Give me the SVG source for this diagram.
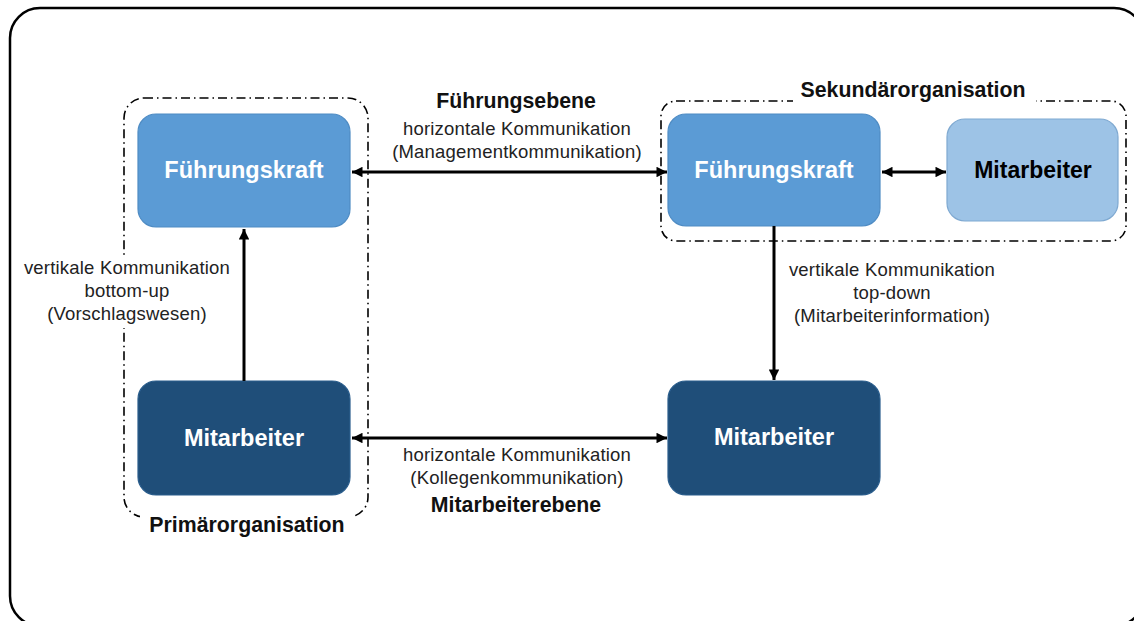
<svg xmlns="http://www.w3.org/2000/svg" width="1134" height="621" viewBox="0 0 1134 621">
  <defs>
    <marker id="head" viewBox="0 0 10 10" refX="10" refY="5" markerWidth="3.8" markerHeight="3.5" orient="auto-start-reverse" markerUnits="strokeWidth">
      <path d="M0,0 L10,5 L0,10 z" fill="#000"/>
    </marker>
    <style>
      .frame { fill: #fff; stroke: #000; stroke-width: 2.5; }
      .group { fill: none; stroke: #000; stroke-width: 1.6; stroke-dasharray: 9 4 1.5 4; }
      .mid { fill: #5b9bd5; stroke: #4f8cc4; stroke-width: 1.2; }
      .dark { fill: #1f4e79; stroke: #2a5d8c; stroke-width: 1.2; }
      .light { fill: #9dc3e6; stroke: #7fa9d1; stroke-width: 1.2; }
      .node-w { font-family: "Liberation Sans", Arial, sans-serif; font-weight: bold; font-size: 23.5px; fill: #fff; text-anchor: middle; }
      .node-b { font-family: "Liberation Sans", Arial, sans-serif; font-weight: bold; font-size: 23px; fill: #000; text-anchor: middle; }
      .head { font-family: "Liberation Sans", Arial, sans-serif; font-weight: bold; font-size: 21.3px; fill: #111; text-anchor: middle; }
      .lbl { font-family: "Liberation Sans", Arial, sans-serif; font-size: 18.5px; letter-spacing: 0.2px; fill: #222; text-anchor: middle; }
      .conn { stroke: #000; stroke-width: 3; fill: none; marker-end: url(#head); }
      .conn2 { stroke: #000; stroke-width: 3; fill: none; marker-start: url(#head); marker-end: url(#head); }
    </style>
  </defs>

  <!-- outer frame -->
  <rect class="frame" x="10" y="8" width="1134" height="618" rx="30"/>

  <!-- organisation groupings -->
  <g id="primaerorganisation">
    <rect class="group" x="124" y="98" width="244" height="419" rx="20"/>
    <rect x="140" y="508" width="215" height="30" fill="#fff"/>
    <text class="head" x="247" y="532">Primärorganisation</text>
  </g>
  <g id="sekundaerorganisation">
    <rect class="group" x="661" y="101" width="465" height="140" rx="15"/>
    <rect x="793" y="76" width="243" height="30" fill="#fff"/>
    <text class="head" x="913" y="97">Sekundärorganisation</text>
  </g>

  <!-- nodes -->
  <g id="fuehrungskraft-links">
    <rect class="mid" x="138" y="114" width="212" height="113" rx="18"/>
    <text class="node-w" x="244" y="178">Führungskraft</text>
  </g>
  <g id="mitarbeiter-links">
    <rect class="dark" x="138" y="381" width="212" height="114" rx="18"/>
    <text class="node-w" x="244" y="446">Mitarbeiter</text>
  </g>
  <g id="fuehrungskraft-rechts">
    <rect class="mid" x="668" y="114" width="212" height="112" rx="18"/>
    <text class="node-w" x="774" y="178">Führungskraft</text>
  </g>
  <g id="mitarbeiter-rechts">
    <rect class="dark" x="668" y="381" width="212" height="114" rx="18"/>
    <text class="node-w" x="774" y="445">Mitarbeiter</text>
  </g>
  <g id="mitarbeiter-sekundaer">
    <rect class="light" x="947" y="119" width="171" height="102" rx="18"/>
    <text class="node-b" x="1033" y="178">Mitarbeiter</text>
  </g>

  <!-- connectors -->
  <g id="connectors">
    <line class="conn2" x1="352" y1="172" x2="667" y2="172"/>
    <line class="conn2" x1="352" y1="438" x2="667" y2="438"/>
    <line class="conn" x1="244" y1="381" x2="244" y2="229"/>
    <line class="conn" x1="774" y1="226" x2="774" y2="380"/>
    <line class="conn2" x1="882" y1="172" x2="946" y2="172"/>
  </g>

  <!-- connector labels -->
  <g id="labels">
    <text class="head" x="516" y="108">Führungsebene</text>
    <text class="lbl" x="517" y="135">horizontale Kommunikation</text>
    <text class="lbl" x="517" y="158">(Managementkommunikation)</text>

    <text class="lbl" x="517" y="461">horizontale Kommunikation</text>
    <text class="lbl" x="517" y="484">(Kollegenkommunikation)</text>
    <text class="head" x="516" y="512">Mitarbeiterebene</text>

    <rect x="20" y="256" width="214" height="72" fill="#fff"/>
    <text class="lbl" x="127" y="274">vertikale Kommunikation</text>
    <text class="lbl" x="127" y="297">bottom-up</text>
    <text class="lbl" x="127" y="320">(Vorschlagswesen)</text>

    <text class="lbl" x="892" y="276">vertikale Kommunikation</text>
    <text class="lbl" x="892" y="299">top-down</text>
    <text class="lbl" x="892" y="322">(Mitarbeiterinformation)</text>
  </g>
</svg>
